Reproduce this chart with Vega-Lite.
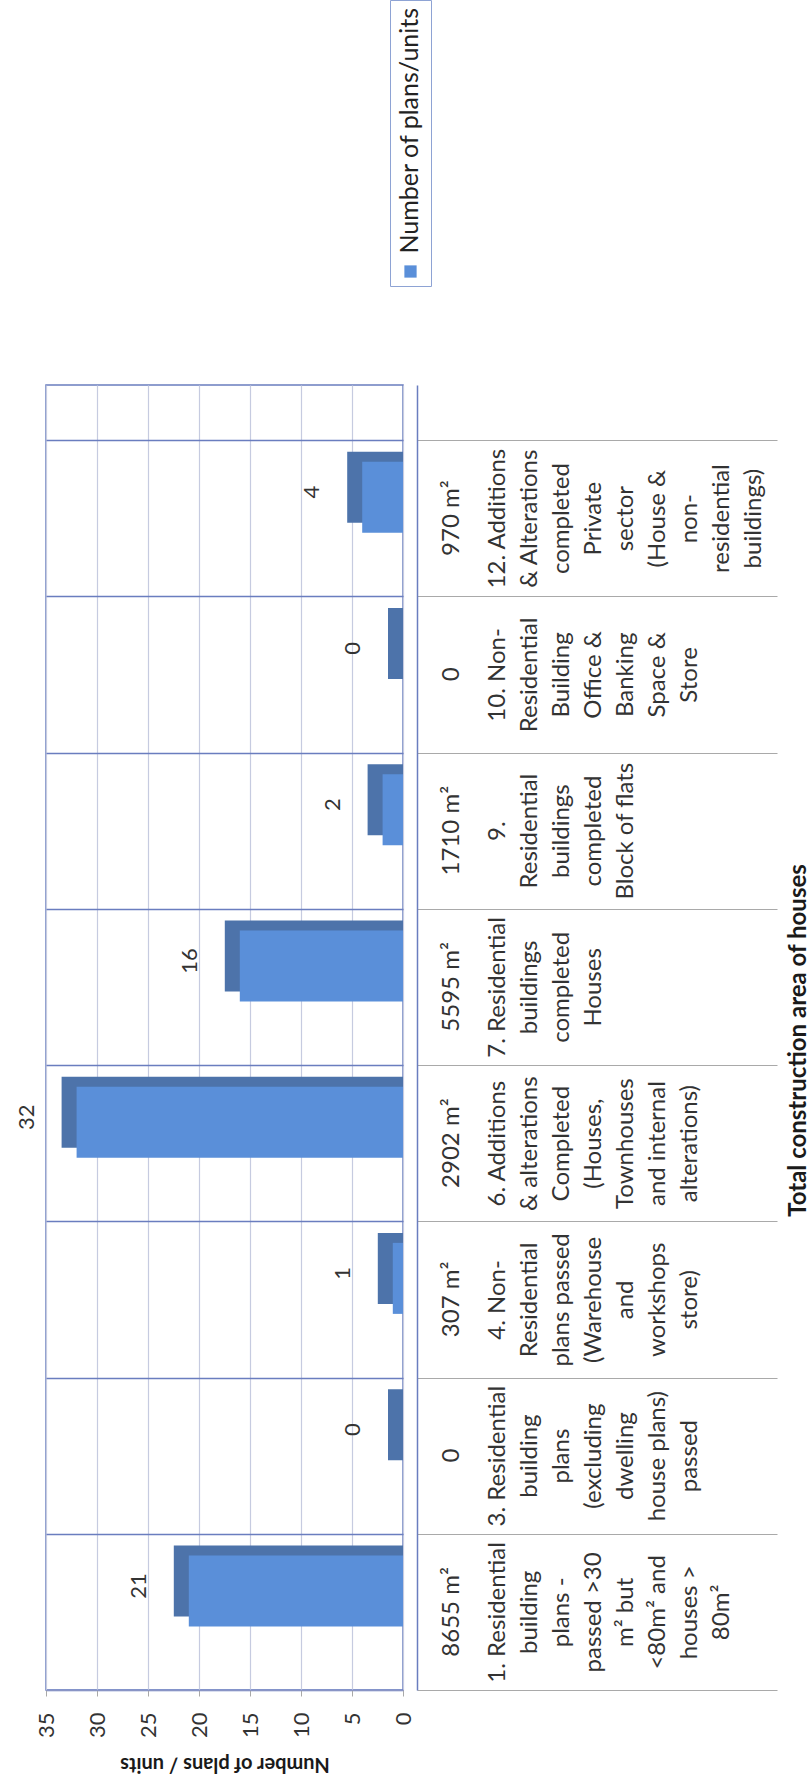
{
  "$schema": "https://vega.github.io/schema/vega-lite/v6.json",
  "description": "Building plans and completions: number of plans/units per category, with the total construction area of each category. Drawn sideways, reading bottom to top.",
  "width": 357,
  "height": 1305,
  "autosize": {"type": "none"},
  "padding": {"left": 46, "top": 385, "right": 406, "bottom": 98},
  "background": "white",
  "config": {
    "font": "Lato",
    "view": {"stroke": "#6a7dbf", "strokeWidth": 1.5},
    "axis": {"labelFont": "Lato", "titleFont": "Lato", "labelColor": "#333333", "titleColor": "#1a1a1a"},
    "legend": {"labelFont": "Lato", "titleFont": "Lato"}
  },
  "data": {
    "values": [
      {"category": "12. Additions|& Alterations|completed|Private|sector|(House &|non-|residential|buildings)", "area": "970 m²", "count": 4},
      {"category": "10. Non-|Residential|Building|Office &|Banking|Space &|Store", "area": "0", "count": 0},
      {"category": "9.|Residential|buildings|completed|Block of flats", "area": "1710 m²", "count": 2},
      {"category": "7. Residential|buildings|completed|Houses", "area": "5595 m²", "count": 16},
      {"category": "6. Additions|& alterations|Completed|(Houses,|Townhouses|and internal|alterations)", "area": "2902 m²", "count": 32},
      {"category": "4. Non-|Residential|plans passed|(Warehouse|and|workshops|store)", "area": "307 m²", "count": 1},
      {"category": "3. Residential|building|plans|(excluding|dwelling|house plans)|passed", "area": "0", "count": 0},
      {"category": "1. Residential|building|plans -|passed >30|m² but|<80m² and|houses >|80m²", "area": "8655 m²", "count": 21}
    ]
  },
  "encoding": {
    "y": {
      "field": "category",
      "type": "nominal",
      "sort": null,
      "scale": {"paddingInner": 0, "paddingOuter": 0.176, "align": 1},
      "axis": {
        "orient": "right",
        "offset": 14,
        "domainColor": "#6a7dbf",
        "domainWidth": 1.5,
        "tickBand": "extent",
        "tickSize": 360,
        "tickColor": "#a9a9a9",
        "tickWidth": 1.2,
        "grid": true,
        "gridColor": "#6a7dbf",
        "gridWidth": 1.3,
        "labelExpr": "split(datum.label, '|')",
        "labelAngle": 270,
        "labelAlign": "center",
        "labelBaseline": "top",
        "labelPadding": -292,
        "labelLineHeight": 32,
        "labelFontSize": 24,
        "labelLimit": 400,
        "labelOverlap": false,
        "title": "Total construction area of houses",
        "titleAngle": 270,
        "titleAlign": "center",
        "titleBaseline": "middle",
        "titleX": 381,
        "titleY": 655,
        "titleFontSize": 24,
        "titleFontWeight": "bold"
      }
    },
    "x": {
      "field": "count",
      "type": "quantitative",
      "scale": {"domain": [0, 35], "reverse": true, "nice": false},
      "axis": {
        "values": [0, 5, 10, 15, 20, 25, 30, 35],
        "labelAngle": 270,
        "labelAlign": "right",
        "labelBaseline": "middle",
        "labelFontSize": 22,
        "labelPadding": 16,
        "labelFlush": false,
        "tickSize": 6,
        "tickColor": "#a9a9a9",
        "domainColor": "#8a95c5",
        "gridColor": "#c6cbe0",
        "gridWidth": 1.2,
        "title": "Number of plans / units",
        "titleAngle": 180,
        "titleBaseline": "bottom",
        "titleFontSize": 20,
        "titleFontWeight": "bold",
        "titlePadding": 16
      }
    }
  },
  "layer": [
    {
      "mark": {"type": "bar", "color": "#4d73aa", "size": 71, "xOffset": -15, "yOffset": -31},
      "encoding": {"x2": {"datum": 0}}
    },
    {
      "mark": {"type": "bar", "size": 71, "yOffset": -21},
      "encoding": {
        "color": {
          "datum": "Number of plans/units",
          "scale": {"range": ["#5a8fd9"]},
          "legend": {
            "orient": "none",
            "legendX": 344,
            "legendY": -385,
            "title": " ",
            "titleFontSize": 4,
            "titlePadding": 247,
            "symbolType": "square",
            "symbolSize": 150,
            "labelFontSize": 25,
            "labelColor": "#222222",
            "labelOffset": -13,
            "labelLimit": 400,
            "strokeColor": "#8ea3d4",
            "padding": 8,
            "encoding": {
              "labels": {
                "angle": {"value": 270},
                "align": {"value": "left"},
                "baseline": {"value": "middle"},
                "dx": {"value": 18}
              }
            }
          }
        }
      }
    },
    {
      "mark": {"type": "text", "angle": 270, "fontSize": 22, "color": "#333333", "xOffset": -50, "yOffset": -26},
      "encoding": {"text": {"field": "count", "type": "quantitative"}}
    },
    {
      "mark": {"type": "text", "angle": 270, "fontSize": 24, "color": "#333333", "xOffset": 49},
      "encoding": {
        "x": {"datum": 0},
        "text": {"field": "area", "type": "nominal"}
      }
    }
  ]
}
